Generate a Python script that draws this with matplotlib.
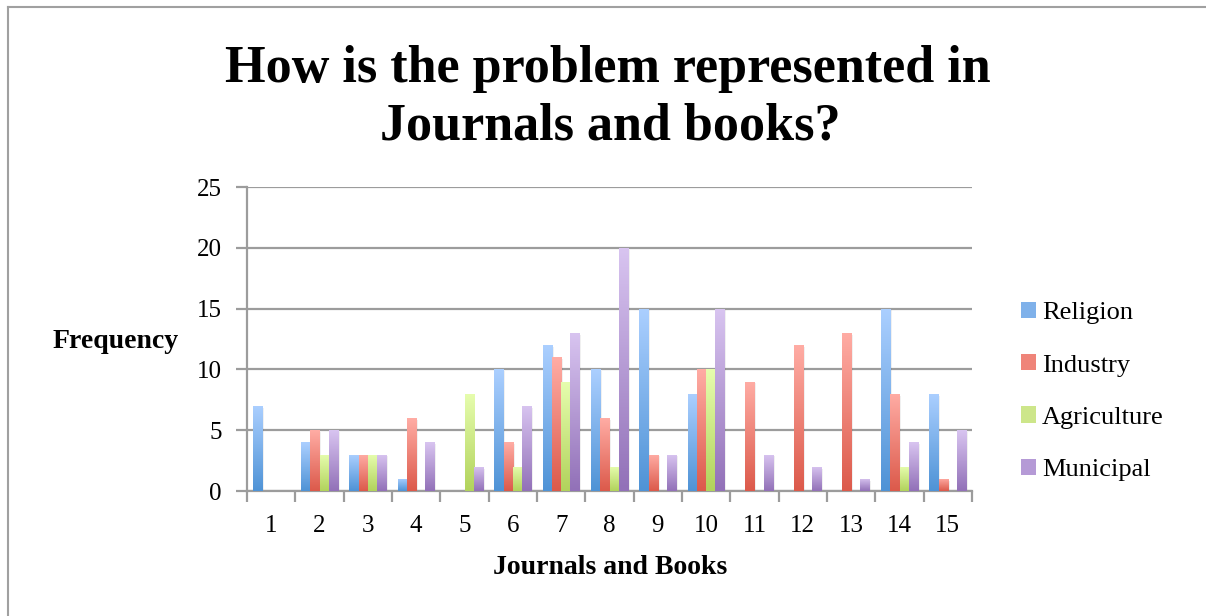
import matplotlib
matplotlib.use("Agg")
import matplotlib.pyplot as plt
import numpy as np
from matplotlib.colors import LinearSegmentedColormap
from matplotlib.patches import Patch
from matplotlib.lines import Line2D

# Data
categories = [str(i) for i in range(1, 16)]
religion = [7, 4, 3, 1, 0, 10, 12, 10, 15, 8, 0, 0, 0, 15, 8]
industry = [0, 5, 3, 6, 0, 4, 11, 6, 3, 10, 9, 12, 13, 8, 1]
agriculture = [0, 3, 3, 0, 8, 2, 9, 2, 0, 10, 0, 0, 0, 2, 0]
municipal = [0, 5, 3, 4, 2, 7, 13, 20, 3, 15, 3, 2, 1, 4, 5]
series_names = ["Religion", "Industry", "Agriculture", "Municipal"]
y_ticks = [0, 5, 10, 15, 20, 25]

series = [religion, industry, agriculture, municipal]
# (bottom colour, top colour, legend colour)
palette = [
    ("#4f93d6", "#abcfff", "#7fb1ea"),
    ("#dc5a4b", "#ffaca4", "#ef8479"),
    ("#b2d35c", "#e6fdae", "#cde68a"),
    ("#9271b8", "#d8c4f0", "#b59ad6"),
]

plt.rcParams["font.family"] = ["Liberation Serif", "DejaVu Serif"]

W, H = 1206, 616
fig = plt.figure(figsize=(W / 100, H / 100), dpi=100)
ax = fig.add_axes([247 / W, 1 - 491 / H, (972 - 247) / W, (491 - 187) / H])

x = np.arange(len(categories))
width = 0.19
offsets = (np.arange(len(series)) - 1.5) * width

for vals, (c_bot, c_top, _), off in zip(series, palette, offsets):
    cmap = LinearSegmentedColormap.from_list("g", [c_bot, c_top])
    grad = np.linspace(0, 1, 64).reshape(-1, 1)
    bars = ax.bar(x + off, vals, width=width, color="none", linewidth=0, zorder=3)
    for rect in bars:
        h = rect.get_height()
        if h <= 0:
            continue
        x0 = rect.get_x()
        # soft shadow on the right side of each bar
        ax.add_patch(plt.Rectangle((x0 + 0.02, 0), width + 0.015, h - 0.15,
                                   facecolor="#000000", alpha=0.06,
                                   linewidth=0, zorder=2.5))
        im = ax.imshow(grad, extent=(x0, x0 + width, 0, h), origin="lower",
                       cmap=cmap, aspect="auto", zorder=3, interpolation="bilinear")
        im.set_clip_path(rect)

ax.set_xlim(-0.5, len(categories) - 0.5)
ax.set_ylim(0, 25)

grid_c = "#9c9c9c"
tick_fs = 18
ax.set_yticks(y_ticks)
ax.set_yticklabels([str(t) for t in y_ticks], fontsize=tick_fs)
ax.yaxis.grid(True, color=grid_c, linewidth=1.6, zorder=0)
ax.set_axisbelow(True)

ax.set_xticks(np.arange(-0.5, len(categories)), minor=False)
ax.set_xticklabels([])
ax.set_xticks(x, minor=True)
ax.set_xticklabels(categories, minor=True, fontsize=tick_fs)
ax.tick_params(axis="x", which="major", length=8, width=1.6, color=grid_c, direction="out")
ax.tick_params(axis="x", which="minor", length=0, pad=17)
ax.tick_params(axis="y", length=8, width=1.6, color=grid_c, pad=10)

for side in ("top", "right"):
    ax.spines[side].set_visible(False)
for side in ("left", "bottom"):
    ax.spines[side].set_color(grid_c)
    ax.spines[side].set_linewidth(1.6)

fig.text(610 / W, 1 - 567 / H, "Journals and Books", ha="center", va="center",
         fontsize=20, fontweight="bold")
fig.text(116 / W, 1 - 342 / H, "Frequency", ha="center", va="center",
         fontsize=20, fontweight="bold")

fig.text(608 / W, 1 - 82 / H, "How is the problem represented in",
         ha="center", va="baseline", fontsize=37.5, fontweight="bold")
fig.text(610 / W, 1 - 139 / H, "Journals and books?",
         ha="center", va="baseline", fontsize=37.5, fontweight="bold")

handles = [Patch(facecolor=p[2], edgecolor="none") for p in palette]
fig.legend(handles, series_names, loc="upper left", bbox_to_anchor=(0.8375, 0.527),
           frameon=False, fontsize=19, handlelength=0.57, handleheight=0.57,
           handletextpad=0.25, labelspacing=1.13, borderaxespad=0)

# outer frame edges
fig.add_artist(Line2D([8 / W, 8 / W], [0, 1 - 7 / H], transform=fig.transFigure,
                      color="#a0a0a0", linewidth=1.5))
fig.add_artist(Line2D([8 / W, 1], [1 - 7 / H, 1 - 7 / H], transform=fig.transFigure,
                      color="#a0a0a0", linewidth=1.5))

fig.savefig("out.png", dpi=100)
